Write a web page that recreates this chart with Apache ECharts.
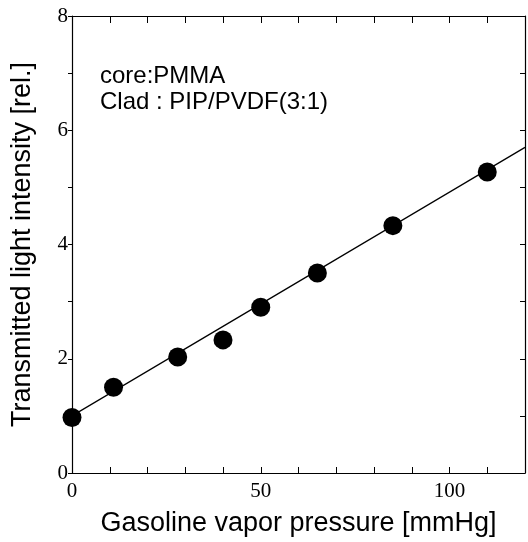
<!DOCTYPE html>
<html lang="en">

<head>
    <meta charset="UTF-8">
    <title>Transmitted light vs gasoline vapor pressure</title>
    <script src="https://cdn.jsdelivr.net/npm/echarts@6/dist/echarts.min.js"></script>
    <style>
        body {
            margin: 0;
            background: #fff;
        }
    </style>
</head>

<body>
    <div id="chart" style="width:528px;height:542px;"></div>
    <script>
        // measured points
        let pressure = [0, 11, 28, 40, 50, 65, 85, 110];
        let intensity = [0.97, 1.5, 2.03, 2.33, 2.9, 3.5, 4.33, 5.27];
        // fitted line (end points)
        let fitX = [0, 120];
        let fitY = [1.0, 5.7];
        let xLabels = [0, 50, 100];
        let yLabels = [0, 2, 4, 6, 8];

        let serif = "'Liberation Serif', 'Times New Roman', serif";
        let sans = "'Liberation Sans', Arial, sans-serif";

        let chart = echarts.init(document.querySelector('#chart'));

        let axisLine = { show: true, onZero: false, lineStyle: { color: '#000', width: 1.2 } };

        let option = {
            animation: false,
            grid: { left: 72, right: 1, top: 16, bottom: 69 },
            xAxis: [{
                type: 'value',
                min: 0, max: 120, interval: 10,
                name: 'Gasoline vapor pressure [mmHg]',
                nameLocation: 'middle',
                nameGap: 37,
                nameTextStyle: { fontFamily: sans, fontSize: 27, color: '#000' },
                axisLine: axisLine,
                axisTick: { inside: true, length: 6, lineStyle: { color: '#000' } },
                axisLabel: {
                    fontFamily: serif, fontSize: 21, color: '#000', margin: 8,
                    formatter: v => xLabels.includes(v) ? String(v) : ''
                },
                splitLine: { show: false }
            }, {
                type: 'value', position: 'top',
                min: 0, max: 120, interval: 10,
                axisLine: axisLine,
                axisTick: { inside: true, length: 7, lineStyle: { color: '#000' } },
                axisLabel: { show: false },
                splitLine: { show: false }
            }],
            yAxis: [{
                type: 'value',
                min: 0, max: 8, interval: 1,
                name: 'Transmitted light intensity [rel.]',
                nameLocation: 'middle',
                nameGap: 36,
                nameTextStyle: { fontFamily: sans, fontSize: 27, color: '#000' },
                axisLine: axisLine,
                axisTick: { inside: false, length: 4, lineStyle: { color: '#000' } },
                axisLabel: {
                    fontFamily: serif, fontSize: 21, color: '#000', margin: 4,
                    formatter: v => yLabels.includes(v) ? String(v) : ''
                },
                splitLine: { show: false }
            }, {
                type: 'value', position: 'right',
                min: 0, max: 8, interval: 1,
                axisLine: axisLine,
                axisTick: { inside: true, length: 5, lineStyle: { color: '#000' } },
                axisLabel: { show: false },
                splitLine: { show: false }
            }],
            graphic: [{
                type: 'text', left: 100, top: 64,
                style: { text: 'core:PMMA', font: '24px ' + sans, fill: '#000' }
            }, {
                type: 'text', left: 100, top: 90,
                style: { text: 'Clad : PIP/PVDF(3:1)', font: '24px ' + sans, fill: '#000' }
            }],
            series: [{
                type: 'line',
                data: fitX.map((x, i) => [x, fitY[i]]),
                symbol: 'none',
                lineStyle: { color: '#000', width: 1.2 },
                silent: true
            }, {
                type: 'scatter',
                data: pressure.map((x, i) => [x, intensity[i]]),
                symbol: 'circle',
                symbolSize: 19,
                itemStyle: { color: '#000', opacity: 1 }
            }]
        };
        chart.setOption(option);
    </script>
</body>

</html>
